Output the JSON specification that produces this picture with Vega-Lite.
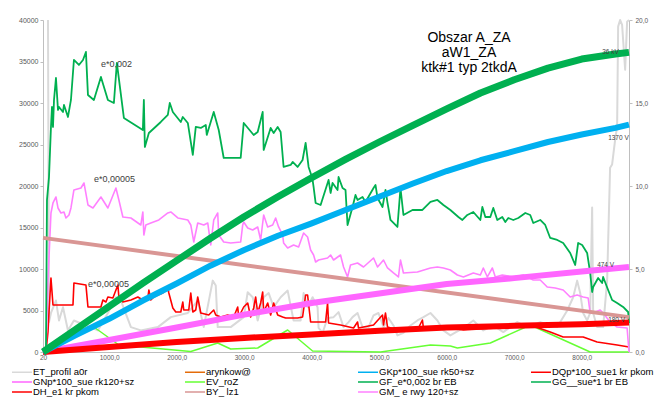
{
"$schema":"https://vega.github.io/schema/vega-lite/v6.json",
"width":586,"height":332,"autosize":"none",
"padding":{"left":43,"top":20,"right":27,"bottom":53},
"background":"white",
"title":{"text":["Obszar A_ZA","aW1_ZA","ktk#1 typ 2tkdA"],"fontSize":14,"font":"Liberation Sans","fontWeight":"normal","color":"#000000","lineHeight":15,"anchor":"middle","frame":"group","orient":"top","baseline":"top","offset":0,"dx":133,"dy":59},
"datasets":{
"ann":[{"t":"e*0,002","x":878,"y":34700},{"t":"e*0,00005","x":774,"y":20800},{"t":"e*0,00005","x":686,"y":8200}],
"vlab":[{"t":"36 kV","x":8302,"y":36090},{"t":"1370 V","x":8391,"y":25730},{"t":"474 V","x":8228,"y":10480},{"t":"180 V","x":8391,"y":3856}]
},
"data":{"values":[
{"s":"ET","x":94,"y":20},{"s":"ET","x":109,"y":1.8},{"s":"ET","x":138,"y":2.35},{"s":"ET","x":212,"y":3.1},{"s":"ET","x":257,"y":1.9},{"s":"ET","x":316,"y":2.7},{"s":"ET","x":390,"y":1.3},{"s":"ET","x":478,"y":1.9},{"s":"ET","x":833,"y":1.3},{"s":"ET","x":981,"y":2.35},{"s":"ET","x":1100,"y":3.3},{"s":"ET","x":1174,"y":3.1},{"s":"ET","x":1322,"y":1.5},{"s":"ET","x":1469,"y":1.3},{"s":"ET","x":1721,"y":1.5},{"s":"ET","x":1913,"y":2.1},{"s":"ET","x":2165,"y":2.35},{"s":"ET","x":2312,"y":3.1},{"s":"ET","x":2401,"y":1.5},{"s":"ET","x":2534,"y":4.3},{"s":"ET","x":2579,"y":4.0},{"s":"ET","x":2608,"y":1.5},{"s":"ET","x":2800,"y":1.5},{"s":"ET","x":2993,"y":2.1},{"s":"ET","x":3052,"y":3.6},{"s":"ET","x":3126,"y":3.3},{"s":"ET","x":3200,"y":1.9},{"s":"ET","x":3289,"y":3.3},{"s":"ET","x":3363,"y":3.55},{"s":"ET","x":3437,"y":2.7},{"s":"ET","x":3540,"y":3.3},{"s":"ET","x":3644,"y":3.7},{"s":"ET","x":3732,"y":1.9},{"s":"ET","x":3836,"y":1.9},{"s":"ET","x":3880,"y":3.55},{"s":"ET","x":3939,"y":2.7},{"s":"ET","x":4013,"y":3.3},{"s":"ET","x":4087,"y":2.7},{"s":"ET","x":4102,"y":1.45},{"s":"ET","x":4161,"y":1.15},{"s":"ET","x":4235,"y":2.05},{"s":"ET","x":4324,"y":2.1},{"s":"ET","x":4398,"y":2.4},{"s":"ET","x":4472,"y":1.5},{"s":"ET","x":4546,"y":1.8},{"s":"ET","x":4605,"y":2.1},{"s":"ET","x":4679,"y":2.35},{"s":"ET","x":4753,"y":1.5},{"s":"ET","x":4842,"y":1.5},{"s":"ET","x":4916,"y":2.2},{"s":"ET","x":4989,"y":2.35},{"s":"ET","x":5064,"y":1.5},{"s":"ET","x":5137,"y":2.05},{"s":"ET","x":5211,"y":1.6},{"s":"ET","x":5270,"y":1.0},{"s":"ET","x":5359,"y":1.15},{"s":"ET","x":5463,"y":1.6},{"s":"ET","x":5566,"y":1.9},{"s":"ET","x":5655,"y":2.1},{"s":"ET","x":5759,"y":2.35},{"s":"ET","x":5862,"y":1.9},{"s":"ET","x":5951,"y":1.3},{"s":"ET","x":6054,"y":1.0},{"s":"ET","x":6247,"y":1.45},{"s":"ET","x":6394,"y":1.9},{"s":"ET","x":6542,"y":1.3},{"s":"ET","x":6690,"y":1.6},{"s":"ET","x":6838,"y":1.2},{"s":"ET","x":7045,"y":1.8},{"s":"ET","x":7193,"y":1.5},{"s":"ET","x":7385,"y":1.8},{"s":"ET","x":7637,"y":1.5},{"s":"ET","x":7785,"y":2.5},{"s":"ET","x":7873,"y":3.3},{"s":"ET","x":7932,"y":4.3},{"s":"ET","x":7977,"y":3.55},{"s":"ET","x":8021,"y":2.35},{"s":"ET","x":8080,"y":1.9},{"s":"ET","x":8125,"y":2.35},{"s":"ET","x":8154,"y":8.7},{"s":"ET","x":8169,"y":2.35},{"s":"ET","x":8228,"y":1.5},{"s":"ET","x":8317,"y":1.5},{"s":"ET","x":8376,"y":4.3},{"s":"ET","x":8420,"y":11.1},{"s":"ET","x":8450,"y":11.3},{"s":"ET","x":8495,"y":12.8},{"s":"ET","x":8524,"y":13.6},{"s":"ET","x":8539,"y":19.6},{"s":"ET","x":8568,"y":20},{"s":"ET","x":8598,"y":19.7},{"s":"ET","x":8643,"y":17},{"s":"ET","x":8672,"y":19.9},{"s":"ET","x":8700,"y":20},
{"s":"EV","x":20,"y":0},{"s":"EV","x":774,"y":3013},{"s":"EV","x":1144,"y":844},{"s":"EV","x":2209,"y":60},{"s":"EV","x":2608,"y":1085},{"s":"EV","x":2800,"y":360},{"s":"EV","x":3200,"y":480},{"s":"EV","x":3644,"y":2651},{"s":"EV","x":4013,"y":120},{"s":"EV","x":5020,"y":0},{"s":"EV","x":5759,"y":840},{"s":"EV","x":6054,"y":720},{"s":"EV","x":6158,"y":480},{"s":"EV","x":6646,"y":1085},{"s":"EV","x":7237,"y":3254},{"s":"EV","x":8125,"y":0},{"s":"EV","x":8700,"y":0},
{"s":"DH","x":64,"y":0},{"s":"DH","x":94,"y":2410},{"s":"DH","x":109,"y":4820},{"s":"DH","x":138,"y":8917},{"s":"DH","x":168,"y":5664},{"s":"DH","x":212,"y":5664},{"s":"DH","x":464,"y":5664},{"s":"DH","x":478,"y":8315},{"s":"DH","x":656,"y":8074},{"s":"DH","x":686,"y":5423},{"s":"DH","x":878,"y":5423},{"s":"DH","x":907,"y":6266},{"s":"DH","x":952,"y":6025},{"s":"DH","x":981,"y":6628},{"s":"DH","x":1055,"y":6507},{"s":"DH","x":1129,"y":8074},{"s":"DH","x":1144,"y":6628},{"s":"DH","x":1203,"y":6025},{"s":"DH","x":1322,"y":6266},{"s":"DH","x":1425,"y":6628},{"s":"DH","x":1499,"y":6266},{"s":"DH","x":1573,"y":6507},{"s":"DH","x":1588,"y":7471},{"s":"DH","x":1617,"y":6266},{"s":"DH","x":1662,"y":6628},{"s":"DH","x":1721,"y":6869},{"s":"DH","x":1795,"y":7110},{"s":"DH","x":1869,"y":7712},{"s":"DH","x":1884,"y":7110},{"s":"DH","x":1943,"y":5302},{"s":"DH","x":1987,"y":4820},{"s":"DH","x":2061,"y":4820},{"s":"DH","x":2091,"y":6025},{"s":"DH","x":2105,"y":5061},{"s":"DH","x":2179,"y":5061},{"s":"DH","x":2209,"y":7110},{"s":"DH","x":2239,"y":4820},{"s":"DH","x":2283,"y":5061},{"s":"DH","x":2312,"y":6628},{"s":"DH","x":2357,"y":4700},{"s":"DH","x":2475,"y":4459},{"s":"DH","x":2549,"y":5061},{"s":"DH","x":2579,"y":4459},{"s":"DH","x":2653,"y":4218},{"s":"DH","x":2756,"y":4459},{"s":"DH","x":2845,"y":4218},{"s":"DH","x":2904,"y":5423},{"s":"DH","x":2919,"y":4218},{"s":"DH","x":2993,"y":5423},{"s":"DH","x":3052,"y":5905},{"s":"DH","x":3096,"y":4218},{"s":"DH","x":3141,"y":5302},{"s":"DH","x":3170,"y":6628},{"s":"DH","x":3200,"y":4700},{"s":"DH","x":3244,"y":5905},{"s":"DH","x":3274,"y":7230},{"s":"DH","x":3289,"y":4820},{"s":"DH","x":3348,"y":5905},{"s":"DH","x":3392,"y":4459},{"s":"DH","x":3437,"y":5905},{"s":"DH","x":3496,"y":4459},{"s":"DH","x":3570,"y":4218},{"s":"DH","x":3614,"y":4097},{"s":"DH","x":3791,"y":4097},{"s":"DH","x":3865,"y":4218},{"s":"DH","x":3910,"y":6869},{"s":"DH","x":3939,"y":6869},{"s":"DH","x":3984,"y":3615},{"s":"DH","x":4132,"y":3615},{"s":"DH","x":4206,"y":3615},{"s":"DH","x":4235,"y":5905},{"s":"DH","x":4250,"y":3495},{"s":"DH","x":4427,"y":3254},{"s":"DH","x":4620,"y":2892},{"s":"DH","x":4679,"y":3615},{"s":"DH","x":4694,"y":2892},{"s":"DH","x":4916,"y":3254},{"s":"DH","x":5049,"y":4459},{"s":"DH","x":5064,"y":3254},{"s":"DH","x":5093,"y":4700},{"s":"DH","x":5123,"y":3013},{"s":"DH","x":5270,"y":2651},{"s":"DH","x":5566,"y":2651},{"s":"DH","x":5640,"y":3856},{"s":"DH","x":5655,"y":2892},{"s":"DH","x":5951,"y":3013},{"s":"DH","x":6247,"y":2651},{"s":"DH","x":6749,"y":2892},{"s":"DH","x":7237,"y":3254},{"s":"DH","x":7533,"y":2410},{"s":"DH","x":7725,"y":1808},{"s":"DH","x":8021,"y":1808},{"s":"DH","x":8228,"y":1205},{"s":"DH","x":8524,"y":844},{"s":"DH","x":8700,"y":603},
{"s":"GM","x":64,"y":0},{"s":"GM","x":94,"y":8676},{"s":"GM","x":138,"y":16750},{"s":"GM","x":168,"y":17955},{"s":"GM","x":212,"y":18678},{"s":"GM","x":242,"y":17352},{"s":"GM","x":286,"y":16750},{"s":"GM","x":331,"y":16870},{"s":"GM","x":360,"y":16147},{"s":"GM","x":405,"y":16509},{"s":"GM","x":434,"y":17352},{"s":"GM","x":478,"y":19521},{"s":"GM","x":582,"y":19762},{"s":"GM","x":627,"y":20365},{"s":"GM","x":686,"y":17714},{"s":"GM","x":760,"y":17352},{"s":"GM","x":878,"y":18678},{"s":"GM","x":981,"y":17352},{"s":"GM","x":1100,"y":19762},{"s":"GM","x":1144,"y":18316},{"s":"GM","x":1203,"y":16268},{"s":"GM","x":1322,"y":16147},{"s":"GM","x":1469,"y":15304},{"s":"GM","x":1499,"y":16870},{"s":"GM","x":1514,"y":14099},{"s":"GM","x":1543,"y":15304},{"s":"GM","x":1617,"y":15545},{"s":"GM","x":1736,"y":15906},{"s":"GM","x":1869,"y":16750},{"s":"GM","x":1913,"y":16870},{"s":"GM","x":2017,"y":16147},{"s":"GM","x":2165,"y":15906},{"s":"GM","x":2209,"y":15304},{"s":"GM","x":2253,"y":13255},{"s":"GM","x":2312,"y":15545},{"s":"GM","x":2401,"y":15304},{"s":"GM","x":2460,"y":15545},{"s":"GM","x":2505,"y":12894},{"s":"GM","x":2549,"y":15906},{"s":"GM","x":2608,"y":16750},{"s":"GM","x":2623,"y":14099},{"s":"GM","x":2697,"y":13255},{"s":"GM","x":2800,"y":13135},{"s":"GM","x":2948,"y":13255},{"s":"GM","x":2978,"y":15304},{"s":"GM","x":2993,"y":15665},{"s":"GM","x":3052,"y":14942},{"s":"GM","x":3126,"y":14701},{"s":"GM","x":3200,"y":15063},{"s":"GM","x":3244,"y":13496},{"s":"GM","x":3274,"y":15545},{"s":"GM","x":3289,"y":16509},{"s":"GM","x":3348,"y":15063},{"s":"GM","x":3422,"y":15304},{"s":"GM","x":3466,"y":16147},{"s":"GM","x":3510,"y":15063},{"s":"GM","x":3570,"y":14099},{"s":"GM","x":3584,"y":13135},{"s":"GM","x":3644,"y":12532},{"s":"GM","x":3732,"y":12894},{"s":"GM","x":3806,"y":12653},{"s":"GM","x":3880,"y":14340},{"s":"GM","x":3939,"y":13858},{"s":"GM","x":3984,"y":12291},{"s":"GM","x":4028,"y":11689},{"s":"GM","x":4058,"y":10845},{"s":"GM","x":4102,"y":11086},{"s":"GM","x":4235,"y":11327},{"s":"GM","x":4280,"y":11689},{"s":"GM","x":4324,"y":11086},{"s":"GM","x":4427,"y":11689},{"s":"GM","x":4472,"y":10243},{"s":"GM","x":4531,"y":9038},{"s":"GM","x":4575,"y":10484},{"s":"GM","x":4679,"y":10725},{"s":"GM","x":4768,"y":10243},{"s":"GM","x":4916,"y":11327},{"s":"GM","x":4975,"y":10243},{"s":"GM","x":5064,"y":11086},{"s":"GM","x":5123,"y":10122},{"s":"GM","x":5211,"y":9520},{"s":"GM","x":5285,"y":9038},{"s":"GM","x":5315,"y":11086},{"s":"GM","x":5359,"y":9520},{"s":"GM","x":5566,"y":9640},{"s":"GM","x":5759,"y":10122},{"s":"GM","x":5862,"y":10243},{"s":"GM","x":5951,"y":10122},{"s":"GM","x":6054,"y":9881},{"s":"GM","x":6158,"y":9279},{"s":"GM","x":6247,"y":9038},{"s":"GM","x":6394,"y":9520},{"s":"GM","x":6498,"y":9279},{"s":"GM","x":6542,"y":10122},{"s":"GM","x":6602,"y":9038},{"s":"GM","x":6676,"y":10122},{"s":"GM","x":6720,"y":9038},{"s":"GM","x":6823,"y":9279},{"s":"GM","x":6986,"y":9038},{"s":"GM","x":7134,"y":9279},{"s":"GM","x":7282,"y":8676},{"s":"GM","x":7385,"y":8676},{"s":"GM","x":7489,"y":7833},{"s":"GM","x":7607,"y":7712},{"s":"GM","x":7725,"y":7471},{"s":"GM","x":7829,"y":6628},{"s":"GM","x":7932,"y":6869},{"s":"GM","x":8021,"y":6628},{"s":"GM","x":8095,"y":6507},{"s":"GM","x":8125,"y":4700},{"s":"GM","x":8199,"y":4820},{"s":"GM","x":8273,"y":5061},{"s":"GM","x":8317,"y":4700},{"s":"GM","x":8420,"y":3615},{"s":"GM","x":8524,"y":3013},{"s":"GM","x":8672,"y":2892},{"s":"GM","x":8700,"y":0},
{"s":"GF","x":64,"y":0},{"s":"GF","x":79,"y":18316},{"s":"GF","x":109,"y":21088},{"s":"GF","x":138,"y":27113},{"s":"GF","x":153,"y":29523},{"s":"GF","x":168,"y":27113},{"s":"GF","x":183,"y":30366},{"s":"GF","x":212,"y":33017},{"s":"GF","x":242,"y":29161},{"s":"GF","x":257,"y":29523},{"s":"GF","x":316,"y":28920},{"s":"GF","x":331,"y":29764},{"s":"GF","x":390,"y":28318},{"s":"GF","x":434,"y":30366},{"s":"GF","x":478,"y":35186},{"s":"GF","x":552,"y":34584},{"s":"GF","x":612,"y":35186},{"s":"GF","x":656,"y":36150},{"s":"GF","x":686,"y":30968},{"s":"GF","x":774,"y":30366},{"s":"GF","x":878,"y":33138},{"s":"GF","x":981,"y":30366},{"s":"GF","x":1070,"y":30005},{"s":"GF","x":1114,"y":34825},{"s":"GF","x":1218,"y":28197},{"s":"GF","x":1499,"y":26751},{"s":"GF","x":1514,"y":30366},{"s":"GF","x":1529,"y":24703},{"s":"GF","x":1588,"y":26390},{"s":"GF","x":1765,"y":27715},{"s":"GF","x":1869,"y":28559},{"s":"GF","x":1898,"y":30005},{"s":"GF","x":1943,"y":28920},{"s":"GF","x":2061,"y":27715},{"s":"GF","x":2091,"y":28318},{"s":"GF","x":2165,"y":27595},{"s":"GF","x":2239,"y":23739},{"s":"GF","x":2283,"y":27113},{"s":"GF","x":2357,"y":26992},{"s":"GF","x":2431,"y":27354},{"s":"GF","x":2446,"y":26149},{"s":"GF","x":2549,"y":28920},{"s":"GF","x":2623,"y":26751},{"s":"GF","x":2697,"y":23377},{"s":"GF","x":2948,"y":23377},{"s":"GF","x":2993,"y":27595},{"s":"GF","x":3141,"y":26149},{"s":"GF","x":3200,"y":26510},{"s":"GF","x":3274,"y":28920},{"s":"GF","x":3289,"y":24341},{"s":"GF","x":3392,"y":26992},{"s":"GF","x":3437,"y":26390},{"s":"GF","x":3496,"y":27113},{"s":"GF","x":3540,"y":26510},{"s":"GF","x":3584,"y":22293},{"s":"GF","x":3688,"y":22534},{"s":"GF","x":3718,"y":22895},{"s":"GF","x":3791,"y":22293},{"s":"GF","x":3865,"y":23136},{"s":"GF","x":3910,"y":25185},{"s":"GF","x":3954,"y":22293},{"s":"GF","x":3984,"y":21570},{"s":"GF","x":4013,"y":20726},{"s":"GF","x":4028,"y":19883},{"s":"GF","x":4058,"y":17955},{"s":"GF","x":4132,"y":17714},{"s":"GF","x":4250,"y":20726},{"s":"GF","x":4280,"y":19160},{"s":"GF","x":4309,"y":20365},{"s":"GF","x":4383,"y":19521},{"s":"GF","x":4398,"y":21088},{"s":"GF","x":4457,"y":19762},{"s":"GF","x":4501,"y":19521},{"s":"GF","x":4531,"y":15304},{"s":"GF","x":4605,"y":17473},{"s":"GF","x":4649,"y":18919},{"s":"GF","x":4679,"y":18316},{"s":"GF","x":4753,"y":18678},{"s":"GF","x":4797,"y":18075},{"s":"GF","x":4916,"y":19762},{"s":"GF","x":4945,"y":20124},{"s":"GF","x":4975,"y":18557},{"s":"GF","x":5049,"y":17473},{"s":"GF","x":5093,"y":19521},{"s":"GF","x":5123,"y":17955},{"s":"GF","x":5167,"y":15906},{"s":"GF","x":5270,"y":15063},{"s":"GF","x":5315,"y":19762},{"s":"GF","x":5359,"y":16509},{"s":"GF","x":5493,"y":17111},{"s":"GF","x":5640,"y":17111},{"s":"GF","x":5759,"y":18075},{"s":"GF","x":5862,"y":18316},{"s":"GF","x":5951,"y":17714},{"s":"GF","x":6054,"y":17111},{"s":"GF","x":6173,"y":16268},{"s":"GF","x":6232,"y":15906},{"s":"GF","x":6306,"y":16509},{"s":"GF","x":6394,"y":16870},{"s":"GF","x":6498,"y":15906},{"s":"GF","x":6528,"y":17473},{"s":"GF","x":6572,"y":16268},{"s":"GF","x":6646,"y":16268},{"s":"GF","x":6690,"y":17352},{"s":"GF","x":6749,"y":15906},{"s":"GF","x":6823,"y":16268},{"s":"GF","x":6868,"y":15665},{"s":"GF","x":6912,"y":16147},{"s":"GF","x":6986,"y":15906},{"s":"GF","x":7060,"y":16147},{"s":"GF","x":7164,"y":16750},{"s":"GF","x":7237,"y":16509},{"s":"GF","x":7282,"y":15545},{"s":"GF","x":7385,"y":15906},{"s":"GF","x":7459,"y":15304},{"s":"GF","x":7533,"y":13737},{"s":"GF","x":7637,"y":13496},{"s":"GF","x":7725,"y":13135},{"s":"GF","x":7829,"y":11930},{"s":"GF","x":7903,"y":10484},{"s":"GF","x":7947,"y":13135},{"s":"GF","x":8006,"y":12894},{"s":"GF","x":8080,"y":11930},{"s":"GF","x":8125,"y":9520},{"s":"GF","x":8154,"y":7230},{"s":"GF","x":8169,"y":7833},{"s":"GF","x":8243,"y":8917},{"s":"GF","x":8302,"y":8315},{"s":"GF","x":8317,"y":9038},{"s":"GF","x":8391,"y":7471},{"s":"GF","x":8450,"y":6266},{"s":"GF","x":8524,"y":5905},{"s":"GF","x":8613,"y":5423},{"s":"GF","x":8687,"y":4820},{"s":"GF","x":8700,"y":3495},
{"s":"BY","x":20,"y":13750},{"s":"BY","x":8700,"y":4200},
{"s":"GN","x":20,"y":0},{"s":"GN","x":1000,"y":1450},{"s":"GN","x":2000,"y":2950},{"s":"GN","x":3000,"y":4500},{"s":"GN","x":4000,"y":5900},{"s":"GN","x":5000,"y":7050},{"s":"GN","x":6000,"y":8200},{"s":"GN","x":7000,"y":8900},{"s":"GN","x":8000,"y":9700},{"s":"GN","x":8700,"y":10250},
{"s":"DQ","x":20,"y":0},{"s":"DQ","x":1000,"y":600},{"s":"DQ","x":2000,"y":1200},{"s":"DQ","x":3000,"y":1700},{"s":"DQ","x":4000,"y":2100},{"s":"DQ","x":5000,"y":2550},{"s":"DQ","x":6000,"y":2950},{"s":"DQ","x":7000,"y":3150},{"s":"DQ","x":8000,"y":3350},{"s":"DQ","x":8700,"y":3550},
{"s":"GK","x":20,"y":0},{"s":"GK","x":500,"y":2000},{"s":"GK","x":1000,"y":4000},{"s":"GK","x":1500,"y":6200},{"s":"GK","x":2000,"y":8250},{"s":"GK","x":2500,"y":10400},{"s":"GK","x":3000,"y":12300},{"s":"GK","x":3500,"y":14000},{"s":"GK","x":4000,"y":15500},{"s":"GK","x":4500,"y":17100},{"s":"GK","x":5000,"y":18700},{"s":"GK","x":5500,"y":20300},{"s":"GK","x":6000,"y":21800},{"s":"GK","x":6500,"y":23100},{"s":"GK","x":7000,"y":24200},{"s":"GK","x":7500,"y":25300},{"s":"GK","x":8000,"y":26200},{"s":"GK","x":8500,"y":27000},{"s":"GK","x":8700,"y":27400},
{"s":"GG","x":20,"y":0},{"s":"GG","x":500,"y":2700},{"s":"GG","x":1000,"y":5500},{"s":"GG","x":1500,"y":8300},{"s":"GG","x":2000,"y":11000},{"s":"GG","x":2500,"y":13700},{"s":"GG","x":3000,"y":16300},{"s":"GG","x":3500,"y":18700},{"s":"GG","x":4000,"y":21000},{"s":"GG","x":4500,"y":23200},{"s":"GG","x":5000,"y":25300},{"s":"GG","x":5500,"y":27300},{"s":"GG","x":6000,"y":29300},{"s":"GG","x":6500,"y":31200},{"s":"GG","x":7000,"y":32800},{"s":"GG","x":7500,"y":34200},{"s":"GG","x":8000,"y":35300},{"s":"GG","x":8500,"y":35900},{"s":"GG","x":8700,"y":36100}
]},
"encoding":{
"x":{"field":"x","type":"quantitative","scale":{"domain":[20,8700],"nice":false,"zero":false},
 "axis":{"title":null,"values":[20,1000,2000,3000,4000,5000,6000,7000,8000],"labelExpr":"datum.value == 20 ? '20' : replace(format(datum.value, '.1f'), '.', ',')","labelFontSize":6.5,"labelPadding":2,"tickSize":0,"labelFlush":false}},
"color":{"field":"s","type":"nominal",
 "scale":{"domain":["ET","GN","DH","AR","EV","BY","GK","GF","GM","DQ","GG"],"range":["#d9d9d9","#ff66ff","#ff0000","#e46c0a","#66ff33","#d99694","#00b0f0","#00b050","#ff80ff","#ff0000","#00b050"]},
 "legend":{"orient":"none","legendX":-32,"legendY":347,"columns":4,"title":null,"symbolType":"M-1,0H4","symbolSize":64,"labelFontSize":9.5,"labelColor":"#000000","labelOffset":12,"rowPadding":0,"columnPadding":49,"padding":0,"gridAlign":"all","labelLimit":300,
  "labelExpr":"{'ET':'ET_profil a0r','AR':'arynkow@','GK':'GKp*100_sue rk50+sz','DQ':'DQp*100_sue1 kr pkom','GN':'GNp*100_sue rk120+sz','EV':'EV_roZ','GF':'GF_e*0,002  br EB','GG':'GG__sue*1 br EB','DH':'DH_e1 kr pkom','BY':'BY_  lz1','GM':'GM_ e rwy 120+sz'}[datum.label]",
  "encode":{"symbols":{"update":{"strokeWidth":{"signal":"indexof(['GK','DQ','GN','GG','BY'], datum.value) >= 0 ? 5 : 2"}}}}}}
},
"layer":[
{"transform":[{"filter":"datum.s == 'ET'"}],"mark":{"type":"line","strokeWidth":2},
 "encoding":{"y":{"field":"y","type":"quantitative","scale":{"domain":[0,20],"nice":false},"axis":{"title":null,"orient":"right","values":[0,5,10,15,20],"labelExpr":"replace(format(datum.value, '.1f'), '.', ',')","labelFontSize":6.5,"tickSize":3,"labelPadding":3}}}},
{"encoding":{"y":{"field":"y","type":"quantitative","scale":{"domain":[0,40000],"nice":false},"axis":{"title":null,"orient":"left","values":[0,5000,10000,15000,20000,25000,30000,35000,40000],"format":"d","labelFontSize":7,"tickSize":3,"labelPadding":2}}},
 "layer":[
 {"transform":[{"filter":"datum.s == 'EV'"}],"mark":{"type":"line","strokeWidth":1.5}},
 {"transform":[{"filter":"datum.s == 'DH'"}],"mark":{"type":"line","strokeWidth":1.6}},
 {"transform":[{"filter":"datum.s == 'GM'"}],"mark":{"type":"line","strokeWidth":1.6}},
 {"transform":[{"filter":"datum.s == 'GF'"}],"mark":{"type":"line","strokeWidth":1.8}},
 {"transform":[{"filter":"datum.s == 'BY'"}],"mark":{"type":"line","strokeWidth":4}},
 {"transform":[{"filter":"datum.s == 'GN'"}],"mark":{"type":"line","strokeWidth":6}},
 {"transform":[{"filter":"datum.s == 'DQ'"}],"mark":{"type":"line","strokeWidth":6}},
 {"transform":[{"filter":"datum.s == 'GK'"}],"mark":{"type":"line","strokeWidth":6}},
 {"transform":[{"filter":"datum.s == 'GG'"}],"mark":{"type":"line","strokeWidth":7}},
 {"data":{"name":"ann"},"mark":{"type":"text","align":"left","baseline":"middle","fontSize":9,"font":"Liberation Sans"},"encoding":{"text":{"field":"t"},"color":{"value":"#404040"}}},
 {"data":{"name":"vlab"},"mark":{"type":"text","align":"left","baseline":"middle","fontSize":6.5,"font":"Liberation Sans"},"encoding":{"text":{"field":"t"},"color":{"value":"#404040"}}}
 ]}
],
"resolve":{"scale":{"y":"independent"}},
"config":{"font":"Liberation Sans","view":{"stroke":null},
 "axis":{"grid":false,"domainColor":"#bfbfbf","tickColor":"#bfbfbf","labelColor":"#595959","labelFont":"Liberation Sans"},
 "line":{"strokeJoin":"round"}}
}
